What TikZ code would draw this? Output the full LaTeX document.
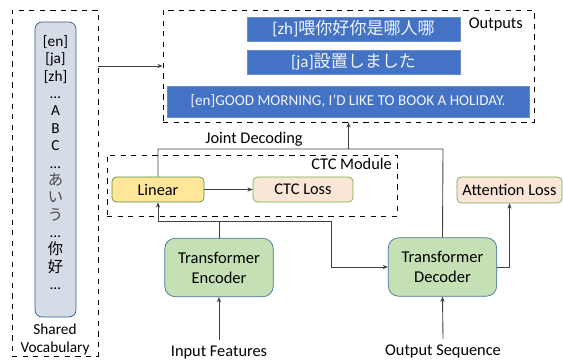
\documentclass[tikz,border=0pt]{standalone}
\usepackage{fontspec}
\setmainfont{Carlito}
\newfontfamily\cjk{Noto Sans CJK JP}
\usetikzlibrary{arrows.meta}
\definecolor{vocabfill}{HTML}{D6DCE5}
\definecolor{vocabline}{HTML}{2F5597}
\definecolor{outblue}{HTML}{4472C4}
\definecolor{linfill}{HTML}{FFE699}
\definecolor{lossfill}{HTML}{FBE5D6}
\definecolor{boxgreen}{HTML}{70AD47}
\definecolor{tffill}{HTML}{C5E0B4}
\definecolor{tfline}{HTML}{41719C}
\definecolor{wire}{HTML}{404040}
\begin{document}
\begin{tikzpicture}[x=0.02cm, y=-0.02cm,
	font=\fontsize{9.3}{11}\selectfont,
	dashbox/.style={draw, dashed, thin, inner sep=0pt},
	outbox/.style={fill=outblue, draw=outblue!80!white, text=white!92!outblue, inner sep=0pt, font=\fontsize{9.7}{11}\selectfont},
	lossbox/.style={draw=boxgreen, fill=lossfill, rounded corners=2.5pt, minimum height=0.5cm, inner sep=0pt},
	tfbox/.style={draw=tfline, fill=tffill, rounded corners=6pt, minimum width=2.17cm, minimum height=1.17cm, align=center, inner sep=0pt, font=\fontsize{9.4}{11.5}\selectfont},
	arr/.style={draw=wire, line width=0.5pt, -{Stealth[length=3pt, width=2.4pt]}},
	wireline/.style={draw=wire, line width=0.5pt}]
	\useasboundingbox (0,0) rectangle (563,361);
	% shared vocabulary
	\node[dashbox, minimum width=1.72cm, minimum height=6.92cm] (vocab) at (55,183) {};
	\node[draw=vocabline, fill=vocabfill, rounded corners=4pt, minimum width=0.82cm, minimum height=5.9cm, inner sep=0pt] (vlist) at (55.5,169.5) {};
	\node[align=center, font=\fontsize{8.7}{9.9}\selectfont, anchor=north] (vtext) at (55.5,29) {{[en]}\\{[ja]}\\{[zh]}\\…\\A\\B\\C\\…\\{\cjk\color{black!70} あ}\\{\cjk\color{black!70} い}\\{\cjk\color{black!70} う}\\…\\{\cjk 你}\\{\cjk 好}\\…};
	\node[align=center, font=\fontsize{8.7}{10.3}\selectfont] (vlabel) at (55,339) {Shared\\Vocabulary};
	% outputs
	\node[dashbox, minimum width=7.42cm, minimum height=2.24cm] (outputs) at (348.5,66) {};
	\node[anchor=east] (outlabel) at (529,25) {Outputs};
	\node[outbox, minimum width=4.26cm, minimum height=0.48cm] (zh) at (353.5,29) {[zh]{\cjk 喂你好你是哪人哪}};
	\node[outbox, minimum width=4.26cm, minimum height=0.48cm] (ja) at (353.5,62) {[ja]{\cjk 設置しました}};
	\node[outbox, minimum width=7.24cm, minimum height=0.62cm, font=\fontsize{8.6}{10}\selectfont] (en) at (348,101.5) {[en]GOOD MORNING, I'D LIKE TO BOOK A HOLIDAY.};
	% CTC module
	\node[dashbox, minimum width=5.8cm, minimum height=1.22cm] (ctcmod) at (252,185.5) {};
	\node[anchor=east] (ctclabel) at (398,164) {CTC Module};
	\node[lossbox, draw=boxgreen!80!black, fill=linfill, minimum width=1.84cm] (linear) at (158,189.5) {Linear};
	\node[lossbox, minimum width=2.0cm] (ctcloss) at (303,189.5) {CTC Loss};
	\node[lossbox, minimum width=2.1cm, minimum height=0.52cm] (attloss) at (509.5,190) {Attention Loss};
	% transformer
	\node[tfbox] (encoder) at (219,267.5) {Transformer\\Encoder};
	\node[tfbox] (decoder) at (442.5,267) {Transformer\\Decoder};
	\node (infeat) at (219,353) {Input Features};
	\node (outseq) at (443,352) {Output Sequence};
	\coordinate (jd) at (443,149);
	\coordinate (br) at (331,221);
	% connectors
	\draw[arr] (vocab.east |- outputs.west) -- (outputs.west);
	\draw[wireline] (linear.north) |- (jd) -- (decoder.north);
	\draw[arr] (outputs.south |- jd) -- (outputs.south);
	\node (jdlabel) at (254,139) {Joint Decoding};
	\draw[arr] (linear) -- (ctcloss);
	\draw[wireline] (encoder.north) -- (encoder.north |- br);
	\draw[arr] (linear.south |- br) -- (linear.south);
	\draw[arr] (linear.south |- br) -- (br) |- (decoder.west);
	\draw[arr] (decoder.east) -| (attloss.south);
	\draw[arr] (infeat.north) -- (encoder.south);
	\draw[arr] (outseq.north) -- (decoder.south);
\end{tikzpicture}
\end{document}
